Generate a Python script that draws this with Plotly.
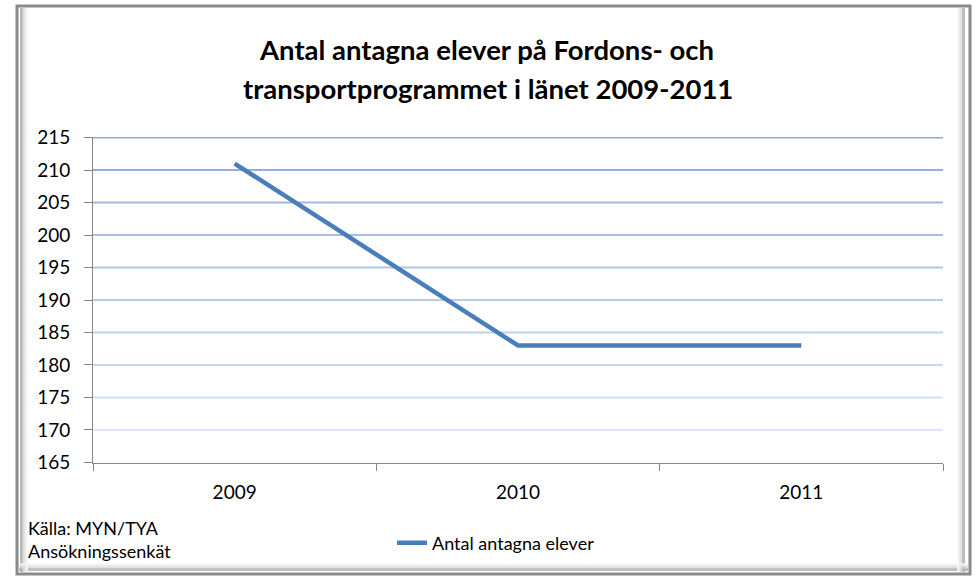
import plotly.graph_objects as go

years = ["2009", "2010", "2011"]
antagna = [211, 183, 183]
y_ticks = [165, 170, 175, 180, 185, 190, 195, 200, 205, 210, 215]
title_lines = ["Antal antagna elever på Fordons- och", "transportprogrammet i länet 2009-2011"]
source_text = "Källa: MYN/TYA<br>Ansökningssenkät"
series_name = "Antal antagna elever"

W, H = 977, 576
L, R, T, B = 93, 34, 137, 113
PW, PH = W - L - R, H - T - B

def px(x):
    return (x - L) / PW

def py(y):
    return (H - B - y) / PH

FONT = "Lato, Open Sans, sans-serif"

fig = go.Figure()
fig.add_trace(go.Scatter(
    x=years, y=antagna, mode="lines", name=series_name,
    line=dict(color="#4a7ebb", width=4.5),
))

shapes = []
# frame with inner shadow
shapes.append(dict(type="rect", xref="paper", yref="paper", x0=px(17), x1=px(970), y0=py(574), y1=py(6),
                   line=dict(color="#8a8a8a", width=3), fillcolor="white", layer="below"))
for i, c in enumerate(["#a9a9a9", "#c4c4c4", "#dadada", "#ebebeb", "#f6f6f6"]):
    d = 2 + i * 1.5
    shapes.append(dict(type="line", xref="paper", yref="paper", x0=px(19 + d), x1=px(19 + d), y0=py(572), y1=py(8),
                       line=dict(color=c, width=1.6), layer="below"))
    shapes.append(dict(type="line", xref="paper", yref="paper", x0=px(968 - d - 2), x1=px(968 - d - 2), y0=py(572), y1=py(8),
                       line=dict(color=c, width=1.6), layer="below"))
    shapes.append(dict(type="line", xref="paper", yref="paper", x0=px(19), x1=px(968), y0=py(572 - d), y1=py(572 - d),
                       line=dict(color=c, width=1.6), layer="below"))
# gridlines with gradient
n = len(y_ticks)
for i, v in enumerate(y_ticks[1:], start=1):
    f = (i - 1) / (n - 2)
    r = int(222 + (142 - 222) * f)
    g = int(231 + (170 - 231) * f)
    b = int(243 + (219 - 243) * f)
    shapes.append(dict(type="line", xref="paper", yref="y", x0=0, x1=1, y0=v, y1=v,
                       line=dict(color=f"rgb({r},{g},{b})", width=2), layer="below"))

annotations = [
    dict(text=f"<b>{title_lines[0]}</b>", x=px(486), y=py(49), xref="paper", yref="paper",
         showarrow=False, font=dict(family=FONT, size=27.5, color="#000000"), yanchor="middle"),
    dict(text=f"<b>{title_lines[1]}</b>", x=px(488), y=py(88), xref="paper", yref="paper",
         showarrow=False, font=dict(family=FONT, size=27.5, color="#000000"), yanchor="middle"),
    dict(text=source_text, x=px(26), y=py(515), xref="paper", yref="paper", xanchor="left", yanchor="top",
         align="left", showarrow=False, font=dict(family=FONT, size=18, color="#000000")),
]

fig.update_layout(
    width=W, height=H,
    margin=dict(l=L, r=R, t=T, b=B),
    paper_bgcolor="white", plot_bgcolor="rgba(0,0,0,0)",
    font=dict(family=FONT, size=19, color="#000000"),
    shapes=shapes, annotations=annotations,
    showlegend=True,
    legend=dict(orientation="h", x=px(392), y=py(543), xanchor="left", yanchor="middle",
                font=dict(family=FONT, size=18, color="#000000"), bgcolor="rgba(0,0,0,0)"),
    xaxis=dict(type="category", range=[-0.5, 2.5], showgrid=False, showline=True, linecolor="#868686",
               linewidth=1, ticks="outside", tickson="boundaries", ticklen=7, tickcolor="#868686",
               tickfont=dict(size=19), zeroline=False, fixedrange=True, ticklabelstandoff=12),
    yaxis=dict(range=[164.92, 215.08], tickvals=y_ticks, showgrid=False, showline=True, linecolor="#868686",
               linewidth=1, ticks="outside", ticklen=8, tickcolor="#868686", zeroline=False,
               tickfont=dict(size=19), ticklabelstandoff=10, fixedrange=True),
)

fig.write_html("out.html", config={"displayModeBar": False},
               post_script="document.body.style.margin='0';document.body.style.overflow='hidden';")
